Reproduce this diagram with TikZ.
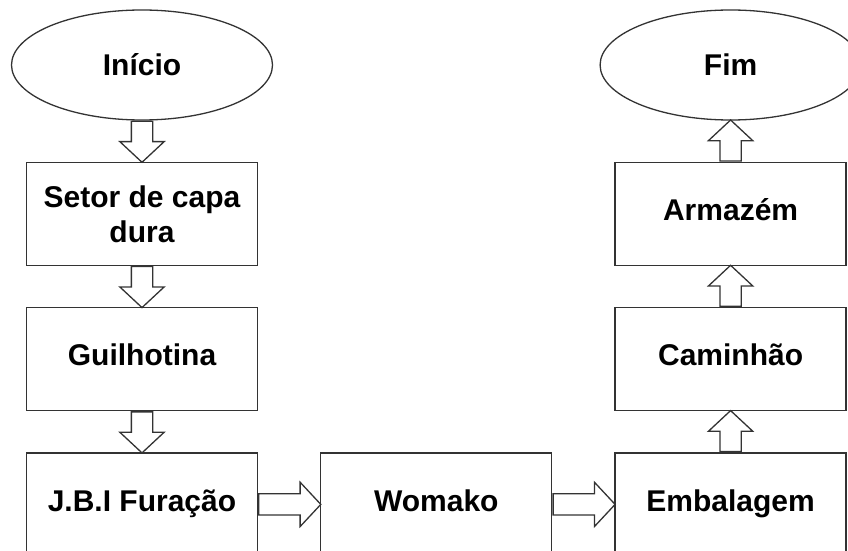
\documentclass[tikz,border=0pt]{standalone}
\usepackage{fontspec}
\setmainfont{Liberation Sans}
\usetikzlibrary{positioning, shapes.geometric, shapes.arrows, calc}
\tikzset{
	x=0.5pt, y=-0.5pt, % one unit is one pixel of the layout
	node distance=20.5pt and 31pt, % gaps between the blocks
	every node/.style={font=\bfseries\fontsize{15}{17.5}\selectfont},
	stepbox/.style={draw=black!80, line width=0.65pt, minimum width=115.5pt, minimum height=51.5pt, align=center, inner sep=0pt,
		text height=0.72em, text depth=0.06em},
	terminal/.style={ellipse, draw=black!80, line width=0.65pt, minimum width=130.5pt, minimum height=55pt, inner sep=0pt},
	fat/.style={to path={let \p1=($(\tikztotarget)-(\tikztostart)$), \n1={veclen(\x1,\y1)} in
		(\tikztostart) -- (\tikztotarget) node[pos=0, sloped, anchor=tail, single arrow, draw=black!80, line width=0.65pt,
		inner sep=0pt, inner ysep=5pt, single arrow head extend=5.75pt, single arrow tip angle=94,
		minimum width=0pt, minimum height=\n1] {}}},
}
\begin{document}
\begin{tikzpicture}
	\useasboundingbox (0,0) rectangle (848,551);
	
	% Blocks
	\node[terminal] (inicio) at (142,65) {Início};
	\node[stepbox, text height=, text depth=, below=of inicio] (setor) {Setor de capa\\dura};
	\node[stepbox, below=of setor] (guilhotina) {Guilhotina};
	\node[stepbox, below=of guilhotina] (furacao) {J.B.I Furação};
	\node[stepbox, right=of furacao] (womako) {Womako};
	\node[stepbox, right=of womako] (embalagem) {Embalagem};
	\node[stepbox, above=of embalagem] (caminhao) {Caminhão};
	\node[stepbox, above=of caminhao] (armazem) {Armazém};
	\node[terminal, above=of armazem] (fim) {Fim};
	
	% Flow
	\path
	(inicio.south) to[fat] (setor.north)
	(setor.south) to[fat] (guilhotina.north)
	(guilhotina.south) to[fat] (furacao.north)
	(furacao.east) to[fat] (womako.west)
	(womako.east) to[fat] (embalagem.west)
	(embalagem.north) to[fat] (caminhao.south)
	(caminhao.north) to[fat] (armazem.south)
	(armazem.north) to[fat] (fim.south);
\end{tikzpicture}
\end{document}
